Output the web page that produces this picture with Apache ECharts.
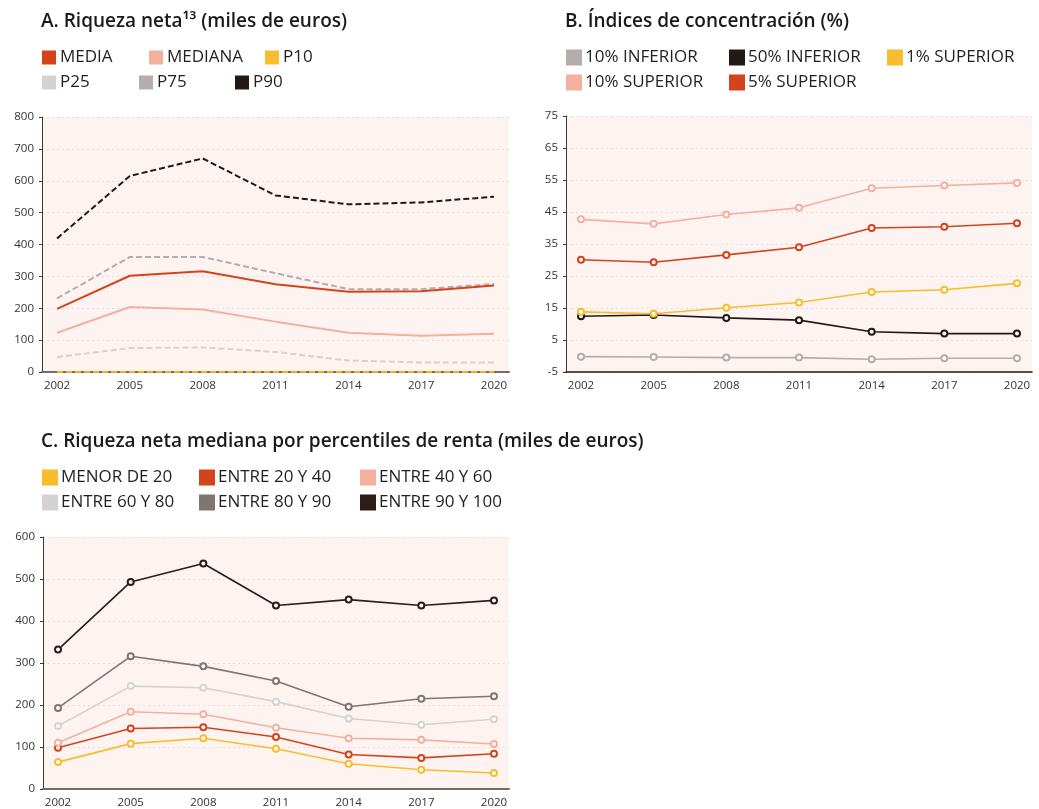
<!DOCTYPE html>
<html>
<head>
<meta charset="utf-8">
<script src="https://cdn.jsdelivr.net/npm/echarts@6/dist/echarts.min.js"></script>
<style>
  html, body { margin: 0; padding: 0; background: #ffffff; }
  #chart { width: 1039px; height: 809px; }
</style>
</head>
<body>
<div id="chart"></div>
<script>
// Survey years shared by the three panels
const years = [2002, 2005, 2008, 2011, 2014, 2017, 2020];

// A. Net wealth (thousand euros)
const media   = [198, 302, 316, 275, 252, 253, 271];
const mediana = [123, 204, 196, 158, 123, 114, 120];
const p10     = [1, 1, 1, 1, 0.5, 0.5, 0.5];
const p25     = [47, 75, 77, 63, 36, 30, 30];
const p75     = [231, 361, 361, 310, 260, 260, 276];
const p90     = [419, 615, 670, 554, 526, 532, 550];

// B. Concentration indices (%)
const inferior10 = [-0.2, -0.3, -0.5, -0.5, -1.0, -0.7, -0.7];
const inferior50 = [12.4, 12.8, 11.9, 11.2, 7.6, 7.0, 7.0];
const superior1  = [13.8, 13.2, 15.1, 16.7, 20.0, 20.7, 22.7];
const superior10 = [42.7, 41.3, 44.2, 46.3, 52.4, 53.3, 54.1];
const superior5  = [30.1, 29.3, 31.6, 34.0, 40.0, 40.4, 41.5];

// C. Median net wealth by income percentile (thousand euros)
const menor20   = [64, 108, 121, 96, 60, 46, 38];
const entre2040 = [98, 144, 147, 124, 82, 74, 84];
const entre4060 = [110, 184, 178, 146, 121, 117, 107];
const entre6080 = [150, 245, 241, 208, 168, 153, 166];
const entre8090 = [193, 316, 292, 257, 196, 215, 221];
const entre90100 = [332, 493, 537, 437, 451, 437, 449];

// Tick labels
const ticksA = [0, 100, 200, 300, 400, 500, 600, 700, 800];
const ticksB = [-5, 5, 15, 25, 35, 45, 55, 65, 75];
const ticksC = [0, 100, 200, 300, 400, 500, 600];

const C_RED = '#d4441c', C_SALMON = '#f3b09f', C_YELLOW = '#f7bd2e',
      C_LGRAY = '#d7d2d2', C_MGRAY = '#b4adad', C_DGRAY = '#807574',
      C_BLACK = '#231815', C_BROWN = '#2e1c16';

const FONT = "'Open Sans', 'Noto Sans', sans-serif";
const BG = '#fdf4f1';

const pairs = arr => arr.map((v, i) => [years[i], v]);

function xAxis(gridIndex, lineColor, lineWidth) {
  return {
    type: 'value', gridIndex,
    min: 2001.38, max: 2020.62,
    axisLine: { show: true, onZero: false, lineStyle: { color: lineColor, width: lineWidth } },
    axisTick: { show: false },
    splitLine: { show: false },
    axisLabel: {
      customValues: years, margin: 8,
      color: '#333', fontSize: 11.5, fontFamily: FONT,
      formatter: v => String(v)
    }
  };
}

function yAxis(gridIndex, min, max, interval, ticks) {
  return {
    type: 'value', gridIndex, min, max, interval,
    axisLine: { show: true, lineStyle: { color: '#3a3a3a', width: 1 } },
    axisTick: { show: true, length: 3, lineStyle: { color: '#3a3a3a' } },
    splitLine: { show: true, lineStyle: { color: '#e6dcd9', type: [2, 3], width: 1 } },
    axisLabel: {
      margin: 8, color: '#333', fontSize: 11.5, fontFamily: FONT,
      customValues: ticks
    }
  };
}

function plainLine(name, data, color, dashed, idx) {
  return {
    name, type: 'line', xAxisIndex: idx, yAxisIndex: idx,
    data: pairs(data), showSymbol: false, symbol: 'none',
    lineStyle: { color, width: 2, type: dashed ? [6, 3] : 'solid' },
    itemStyle: { color },
    emphasis: { disabled: true }, z: 3
  };
}

function markedLine(name, data, color, idx) {
  return {
    name, type: 'line', xAxisIndex: idx, yAxisIndex: idx,
    data: pairs(data), symbol: 'emptyCircle', symbolSize: 6,
    lineStyle: { color, width: 1.6 },
    itemStyle: { color, borderColor: color, borderWidth: 1.5 },
    emphasis: { disabled: true }, z: 3
  };
}

function legendItem(name, color, left, top) {
  return {
    data: [{ name, icon: 'rect', itemStyle: { color } }],
    left, top, padding: 0,
    itemWidth: 14, itemHeight: 14, itemGap: 0,
    textStyle: { color: '#231f20', fontSize: 17, fontFamily: FONT, padding: [0, 0, 0, -1] }
  };
}

const titleStyle = { color: '#1a1a1a', fontSize: 19, fontWeight: 600, fontFamily: FONT };

const option = {
  backgroundColor: '#ffffff',
  animation: false,
  title: [
    { text: 'A. Riqueza neta¹³ (miles de euros)', left: 41, top: 12, padding: 0, textStyle: titleStyle },
    { text: 'B. Índices de concentración (%)', left: 565, top: 12, padding: 0, textStyle: titleStyle },
    { text: 'C. Riqueza neta mediana por percentiles de renta (miles de euros)', left: 41, top: 432, padding: 0, textStyle: titleStyle }
  ],
  legend: [
    legendItem('MEDIA', C_RED, 42, 49),
    legendItem('MEDIANA', C_SALMON, 149, 49),
    legendItem('P10', C_YELLOW, 265, 49),
    legendItem('P25', C_LGRAY, 42, 74),
    legendItem('P75', C_MGRAY, 139, 74),
    legendItem('P90', C_BLACK, 235, 74),

    legendItem('10% INFERIOR', C_MGRAY, 566, 49),
    legendItem('50% INFERIOR', C_BLACK, 729, 49),
    legendItem('1% SUPERIOR', C_YELLOW, 887, 49),
    legendItem('10% SUPERIOR', C_SALMON, 566, 74),
    legendItem('5% SUPERIOR', C_RED, 729, 74),

    legendItem('MENOR DE 20', C_YELLOW, 42, 469),
    legendItem('ENTRE 20 Y 40', C_RED, 199, 469),
    legendItem('ENTRE 40 Y 60', C_SALMON, 360, 469),
    legendItem('ENTRE 60 Y 80', C_LGRAY, 42, 494),
    legendItem('ENTRE 80 Y 90', C_DGRAY, 199, 494),
    legendItem('ENTRE 90 Y 100', C_BROWN, 360, 494)
  ],
  grid: [
    { left: 42, top: 117, width: 467, height: 255, show: true, backgroundColor: BG, borderWidth: 0 },
    { left: 566, top: 116, width: 466, height: 256, show: true, backgroundColor: BG, borderWidth: 0 },
    { left: 43, top: 537, width: 466, height: 255, show: true, backgroundColor: BG, borderWidth: 0 }
  ],
  xAxis: [
    xAxis(0, '#6e6e6e', 2),
    xAxis(1, '#231815', 1.5),
    xAxis(2, '#6e6e6e', 2)
  ],
  yAxis: [
    yAxis(0, 0, 800, 100, ticksA),
    yAxis(1, -5, 75, 10, ticksB),
    yAxis(2, 0, 600, 100, ticksC)
  ],
  series: [
    plainLine('P25', p25, C_LGRAY, true, 0),
    plainLine('P75', p75, C_MGRAY, true, 0),
    plainLine('MEDIANA', mediana, C_SALMON, false, 0),
    plainLine('MEDIA', media, C_RED, false, 0),
    plainLine('P90', p90, C_BLACK, true, 0),
    plainLine('P10', p10, C_YELLOW, true, 0),

    markedLine('10% INFERIOR', inferior10, C_MGRAY, 1),
    markedLine('50% INFERIOR', inferior50, C_BLACK, 1),
    markedLine('1% SUPERIOR', superior1, C_YELLOW, 1),
    markedLine('10% SUPERIOR', superior10, C_SALMON, 1),
    markedLine('5% SUPERIOR', superior5, C_RED, 1),

    markedLine('MENOR DE 20', menor20, C_YELLOW, 2),
    markedLine('ENTRE 20 Y 40', entre2040, C_RED, 2),
    markedLine('ENTRE 40 Y 60', entre4060, C_SALMON, 2),
    markedLine('ENTRE 60 Y 80', entre6080, C_LGRAY, 2),
    markedLine('ENTRE 80 Y 90', entre8090, C_DGRAY, 2),
    markedLine('ENTRE 90 Y 100', entre90100, C_BROWN, 2)
  ]
};

const chart = echarts.init(document.getElementById('chart'), null, { renderer: 'canvas' });
chart.setOption(option);
</script>
</body>
</html>
